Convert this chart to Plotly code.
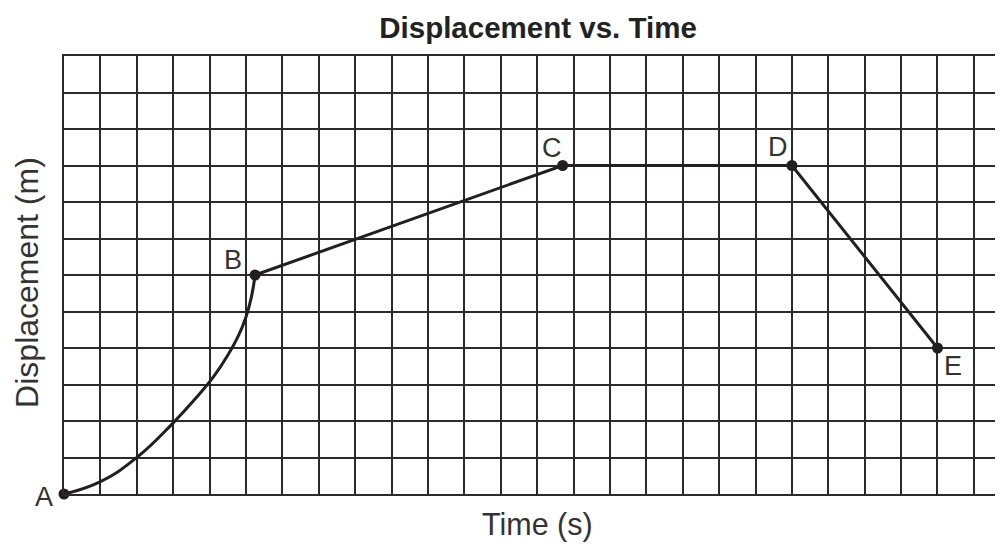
import plotly.graph_objects as go

# Key points (time, displacement) in grid units
point_labels = ["A", "B", "C", "D", "E"]
point_t = [0, 5.25, 13.7, 20, 24]
point_d = [0, 6, 9, 9, 4]

# Curved segment A -> B
curve_t = [0, 1, 2, 3, 3.6, 4.1, 4.5, 4.8, 5.0, 5.15, 5.25]
curve_d = [0, 0.34, 1.0, 1.95, 2.6, 3.2, 3.8, 4.35, 4.85, 5.4, 6]

# Straight segments B -> C -> D -> E
seg_t = point_t[1:]
seg_d = point_d[1:]

ink = "#231f20"
fontfam = "Liberation Sans, Arial, sans-serif"

# label offsets (px) from their points
label_dx = [-20, -22, -11, -14, 16]
label_dy = [-3, 15, 18, 19, -18]

fig = go.Figure()
fig.add_trace(go.Scatter(x=curve_t, y=curve_d, mode="lines",
                         line=dict(color=ink, width=3, shape="spline", smoothing=1.3),
                         hoverinfo="skip", cliponaxis=False))
fig.add_trace(go.Scatter(x=seg_t, y=seg_d, mode="lines",
                         line=dict(color=ink, width=3),
                         hoverinfo="skip", cliponaxis=False))
fig.add_trace(go.Scatter(x=point_t, y=point_d, mode="markers",
                         marker=dict(color=ink, size=11),
                         hoverinfo="skip", cliponaxis=False))

for lab, t, d, dx, dy in zip(point_labels, point_t, point_d, label_dx, label_dy):
    fig.add_annotation(x=t, y=d, xref="x", yref="y", text=lab, showarrow=False,
                       xanchor="center", yanchor="middle", xshift=dx, yshift=dy,
                       font=dict(family=fontfam, size=27, color="#333333"))

fig.add_annotation(x=0.504, y=-0.07, xref="paper", yref="paper", text="Time (s)",
                   showarrow=False, xanchor="center", yanchor="middle",
                   font=dict(family=fontfam, size=30.5, color="#333333"))
fig.add_annotation(x=-0.0394, y=0.482, xref="paper", yref="paper",
                   text="Displacement (m)", textangle=-90,
                   showarrow=False, xanchor="center", yanchor="middle",
                   font=dict(family=fontfam, size=32, color="#333333"))

fig.update_layout(
    width=995, height=536,
    margin=dict(l=56, r=0, t=48, b=50),
    paper_bgcolor="white", plot_bgcolor="white",
    showlegend=False,
    title=dict(text="<b>Displacement vs. Time</b>", x=0.5327, xanchor="center",
               y=0.9627, yanchor="middle",
               font=dict(family=fontfam, size=29.5, color="#222222")),
    font=dict(family=fontfam),
)
fig.update_xaxes(range=[0, 25.8], dtick=1, tick0=0, showgrid=True,
                 gridcolor="#2b2b2b", gridwidth=2, zeroline=False,
                 showline=True, linecolor="#2b2b2b", linewidth=2, mirror=True,
                 showticklabels=False, ticks="", automargin=False)
fig.update_yaxes(range=[0, 12], dtick=1, tick0=0, showgrid=True,
                 gridcolor="#2b2b2b", gridwidth=2, zeroline=False,
                 showline=True, linecolor="#2b2b2b", linewidth=2, mirror=False,
                 showticklabels=False, ticks="", automargin=False)

fig.write_html("out.html")
